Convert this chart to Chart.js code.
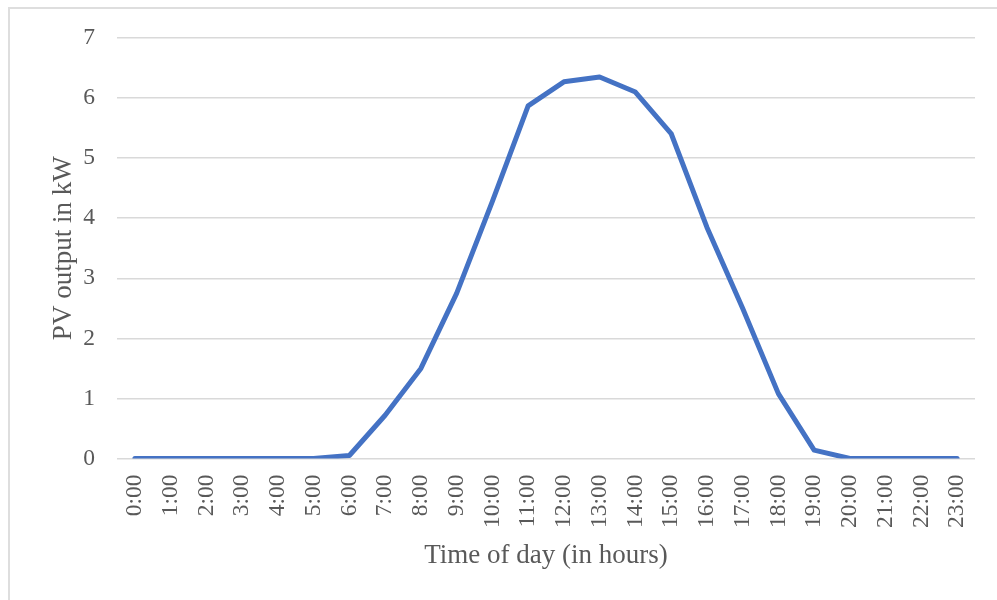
<!DOCTYPE html>
<html>
<head>
<meta charset="utf-8">
<title>PV output over the day</title>
<script src="https://cdn.jsdelivr.net/npm/chart.js@4.4.1/dist/chart.umd.min.js"></script>
<style>
  html, body { margin: 0; padding: 0; background: #ffffff; }
  #wrap { position: relative; width: 997px; height: 600px; overflow: hidden; }
  #frame {
    position: absolute; left: 8px; top: 7px; width: 1200px; height: 800px;
    border-top: 2px solid #dedede; border-left: 2px solid #dedede;
    box-sizing: border-box; pointer-events: none;
  }
  canvas { position: absolute; left: 0; top: 0; }
</style>
</head>
<body>
<div id="wrap">
  <div id="frame"></div>
  <canvas id="chart" width="997" height="600"></canvas>
</div>
<script>
// Hour labels along the x axis
const hours = [
  "0:00", "1:00", "2:00", "3:00", "4:00", "5:00", "6:00", "7:00",
  "8:00", "9:00", "10:00", "11:00", "12:00", "13:00", "14:00", "15:00",
  "16:00", "17:00", "18:00", "19:00", "20:00", "21:00", "22:00", "23:00"
];

// PV output (kW) for each hour
const pvOutput = [
  0, 0, 0, 0, 0, 0, 0.05, 0.72,
  1.5, 2.75, 4.28, 5.87, 6.27, 6.35, 6.1, 5.41,
  3.85, 2.5, 1.08, 0.14, 0, 0, 0, 0
];

// Value axis range
const yMin = 0;
const yMax = 7;
const yStep = 1;

const textGray = "#595959";
const gridGray = "#d9d9d9";
const serif = "'Liberation Serif', 'Times New Roman', serif";

new Chart(document.getElementById("chart"), {
  type: "line",
  data: {
    labels: hours,
    datasets: [{
      data: pvOutput,
      borderColor: "#4472C4",
      borderWidth: 5,
      borderJoinStyle: "round",
      borderCapStyle: "round",
      pointRadius: 0,
      tension: 0,
      fill: false
    }]
  },
  options: {
    responsive: false,
    animation: false,
    devicePixelRatio: 1,
    layout: { padding: { top: 38, right: 22, bottom: 0, left: 0 } },
    plugins: {
      legend: { display: false },
      tooltip: { enabled: false }
    },
    scales: {
      x: {
        offset: true,
        grid: { display: false, drawTicks: false },
        border: { display: false },
        ticks: {
          color: textGray,
          font: { family: serif, size: 23.5 },
          minRotation: 90,
          maxRotation: 90,
          autoSkip: false,
          padding: 16
        },
        title: {
          display: true,
          text: "Time of day (in hours)",
          color: textGray,
          font: { family: serif, size: 27 },
          padding: { top: 0, bottom: 28 }
        },
        afterFit: (scale) => {
          scale.height = 141.5;
          scale.paddingLeft = 0;
          scale.paddingRight = 0;
        }
      },
      y: {
        min: yMin,
        max: yMax,
        grid: { color: gridGray, lineWidth: 1.5, drawTicks: false },
        border: { display: false },
        ticks: {
          stepSize: yStep,
          color: textGray,
          font: { family: serif, size: 23.5 },
          padding: 22
        },
        title: {
          display: true,
          text: "PV output in kW",
          color: textGray,
          font: { family: serif, size: 27 },
          padding: { top: 48, bottom: 0 }
        },
        afterFit: (scale) => {
          scale.width = 117;
          scale.paddingTop = 0;
          scale.paddingBottom = 0;
        }
      }
    }
  }
});
</script>
</body>
</html>
